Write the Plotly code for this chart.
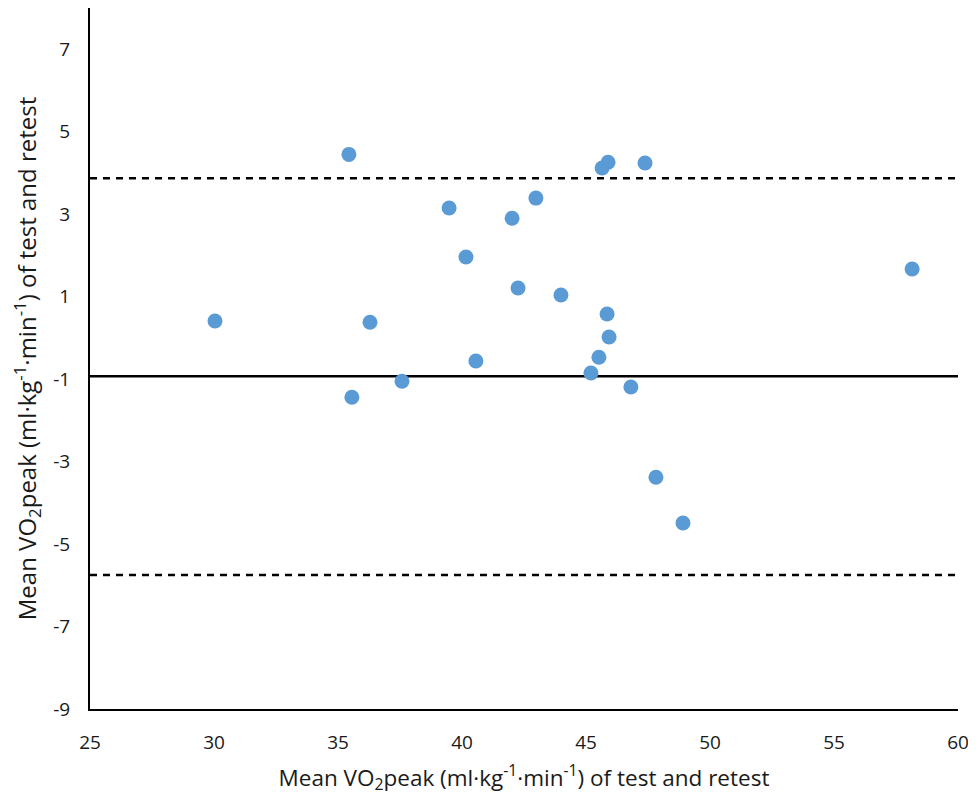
import plotly.graph_objects as go

# Data
mean_vo2 = [30.04, 35.44, 35.56, 36.29, 37.58, 39.48, 40.16, 40.56, 42.02, 42.26,
            42.98, 43.99, 45.20, 45.52, 45.65, 45.89, 45.85, 45.93, 46.81, 47.38,
            47.82, 48.91, 58.15]
diff_vo2 = [0.41, 4.45, -1.44, 0.38, -1.05, 3.15, 1.96, -0.56, 2.90, 1.21,
            3.39, 1.04, -0.85, -0.47, 4.12, 4.26, 0.58, 0.02, -1.19, 4.24,
            -3.38, -4.49, 1.67]
bias = -0.93
upper_loa = 3.87
lower_loa = -5.75
x_span = [25, 60]

y_ticks = [-9, -7, -5, -3, -1, 1, 3, 5, 7]
y_tick_labels = ["-9", "-7", "-5", "-3", "-1", "1", "3", "5", "7"]
x_ticks = [25, 30, 35, 40, 45, 50, 55, 60]
x_tick_labels = ["25", "30", "35", "40", "45", "50", "55", "60"]

font_family = "Open Sans, Liberation Sans, sans-serif"
title_text = "Mean VO<sub>2</sub>peak (ml·kg<sup>-1</sup>·min<sup>-1</sup>) of test and retest"

fig = go.Figure()
fig.add_trace(go.Scatter(x=x_span, y=[upper_loa, upper_loa], mode="lines",
                         line=dict(color="black", width=2.6, dash="7px,6px"),
                         hoverinfo="skip", showlegend=False))
fig.add_trace(go.Scatter(x=x_span, y=[lower_loa, lower_loa], mode="lines",
                         line=dict(color="black", width=2.6, dash="7px,6px"),
                         hoverinfo="skip", showlegend=False))
fig.add_trace(go.Scatter(x=x_span, y=[bias, bias], mode="lines",
                         line=dict(color="black", width=2.6),
                         hoverinfo="skip", showlegend=False))
fig.add_trace(go.Scatter(x=mean_vo2, y=diff_vo2, mode="markers",
                         marker=dict(color="#5B9BD5", size=15, line=dict(width=0)),
                         showlegend=False))

fig.update_layout(
    width=968, height=791,
    margin=dict(l=82, r=18, t=0, b=90),
    paper_bgcolor="white", plot_bgcolor="white",
    font=dict(family=font_family, size=19, color="#1a1a1a"),
    showlegend=False,
)
fig.update_xaxes(
    range=[25, 60], tickvals=x_ticks, ticktext=x_tick_labels,
    showgrid=False, zeroline=False, automargin=False,
    showline=True, linecolor="black", linewidth=2, ticks="",
    ticklabelstandoff=15,
    tickfont=dict(size=19, family=font_family),
    title=dict(text=title_text, font=dict(size=22.5, family=font_family), standoff=16),
)
fig.update_yaxes(
    range=[-9, 8], tickvals=y_ticks, ticktext=y_tick_labels,
    showgrid=False, zeroline=False, automargin=False,
    showline=True, linecolor="black", linewidth=2, ticks="",
    ticklabelstandoff=14,
    tickfont=dict(size=19, family=font_family),
    title=dict(text=title_text, font=dict(size=24, family=font_family), standoff=12),
)

fig.write_html("out.html")
